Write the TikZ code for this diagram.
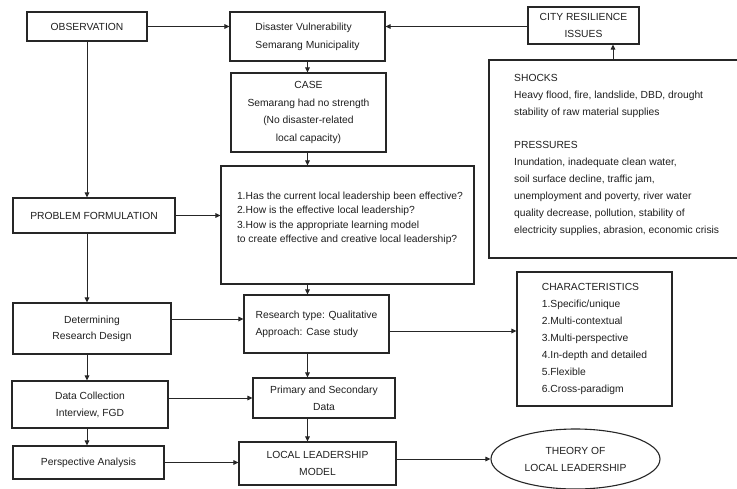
\documentclass[tikz,border=0pt]{standalone}
\usepackage{fontspec}
\setmainfont{Liberation Sans}
\usetikzlibrary{shapes.geometric,arrows.meta}
\begin{document}
\begin{tikzpicture}[x=1pt,y=-1pt,
  box/.style={draw=black!85, line width=1.1pt, rectangle, inner sep=0pt, text=black!88,
    font=\fontsize{10.3}{17}\selectfont, align=center},
  txt/.style={inner sep=0pt, text=black!88, font=\fontsize{10.3}{17}\selectfont, align=left},
  arr/.style={draw=black!85, line width=1pt, -{Triangle[length=5pt,width=4.5pt]}}]
\useasboundingbox (0,0) rectangle (737,488);
\clip (0,0) rectangle (737,488);
\fill[white] (0,0) rectangle (737,488);

% boxes
\node[box, line width=1.8pt, minimum width=120, minimum height=29] (obs) at (87,26.5) {OBSERVATION};
\node[box, minimum width=155, minimum height=49, align=left, font=\fontsize{10.3}{18}\selectfont] (dv) at (307.5,36.5) {Disaster Vulnerability\\Semarang Municipality};
\node[box, minimum width=111, minimum height=37] (city) at (583.5,25.5) {CITY RESILIENCE\\ISSUES};
\node[box, minimum width=260, minimum height=198] (shocks) at (619,159) {};
\node[txt, anchor=west] (shockst) at (514,155) {SHOCKS\\Heavy flood, fire, landslide, DBD, drought\\stability of raw material supplies\\[16.9pt]PRESSURES\\Inundation, inadequate clean water,\\soil surface decline, traffic jam,\\unemployment and poverty, river water\\quality decrease, pollution, stability of\\electricity supplies, abrasion, economic crisis};
\node[box, minimum width=155, minimum height=79, font=\fontsize{10.3}{17.5}\selectfont] (case) at (308.5,112.5) {CASE\\Semarang had no strength\\(No disaster-related\\local capacity)};
\node[box, minimum width=253, minimum height=118] (q) at (347.5,225) {};
\node[txt, font=\fontsize{10.3}{14.5}\selectfont] (qt) at (350,218.5) {1.Has the current local leadership been effective?\\2.How is the effective local leadership?\\3.How is the appropriate learning model\\to create effective and creative local leadership?};
\node[box, minimum width=162, minimum height=35] (prob) at (94,215.5) {PROBLEM FORMULATION};
\node[box, minimum width=158, minimum height=51, font=\fontsize{10.3}{16}\selectfont] (det) at (92,328.5) {Determining\\Research Design};
\node[box, minimum width=145, minimum height=58, align=left] (rt) at (316.5,324) {Research type: Qualitative\\Approach: Case study};
\node[box, minimum width=155, minimum height=134, align=left] (char) at (594.5,339) {CHARACTERISTICS\\1.Specific/unique\\2.Multi-contextual\\3.Multi-perspective\\4.In-depth and detailed\\5.Flexible\\6.Cross-paradigm};
\node[box, minimum width=156, minimum height=47] (dc) at (90,404.5) {Data Collection\\Interview, FGD};
\node[box, minimum width=142, minimum height=40] (pd) at (324,398) {Primary and Secondary\\Data};
\node[box, minimum width=151, minimum height=33] (pa) at (88.5,462.5) {Perspective Analysis};
\node[box, minimum width=157, minimum height=43] (llm) at (317.5,463.5) {LOCAL LEADERSHIP\\MODEL};
\node[box, ellipse, minimum width=169, minimum height=60] (th) at (575.5,459) {THEORY OF\\LOCAL LEADERSHIP};

% connectors
\draw[arr] (obs.east) -- (obs.east -| dv.west);
\draw[arr] (city.west |- obs.east) -- (dv.east |- obs.east);
\draw[arr] ([xshift=29.5pt]city.south |- shocks.north) -- ([xshift=29.5pt]city.south);
\draw[arr] (dv.south) -- (dv.south |- case.north);
\draw[arr] (dv.south |- case.south) -- (dv.south |- q.north);
\draw[arr] (dv.south |- q.south) -- (dv.south |- rt.north);
\draw[arr] (dv.south |- rt.south) -- (dv.south |- pd.north);
\draw[arr] (dv.south |- pd.south) -- (dv.south |- llm.north);

\draw[arr] (obs.south) -- (obs.south |- prob.north);
\draw[arr] (obs.south |- prob.south) -- (obs.south |- det.north);
\draw[arr] (obs.south |- det.south) -- (obs.south |- dc.north);
\draw[arr] (obs.south |- dc.south) -- (obs.south |- pa.north);

\draw[arr] (prob.east) -- (prob.east -| q.west);
\draw[arr] ([yshift=9.5pt]det.east) -- ([yshift=9.5pt]det.east -| rt.west);
\draw[arr] ([yshift=-7pt]rt.east) -- ([yshift=-7pt]rt.east -| char.west);
\draw[arr] ([yshift=6.5pt]dc.east) -- ([yshift=6.5pt]dc.east -| pd.west);
\draw[arr] (pa.east) -- (pa.east -| llm.west);
\draw[arr] (llm.east |- th.west) -- (th.west);
\end{tikzpicture}
\end{document}
